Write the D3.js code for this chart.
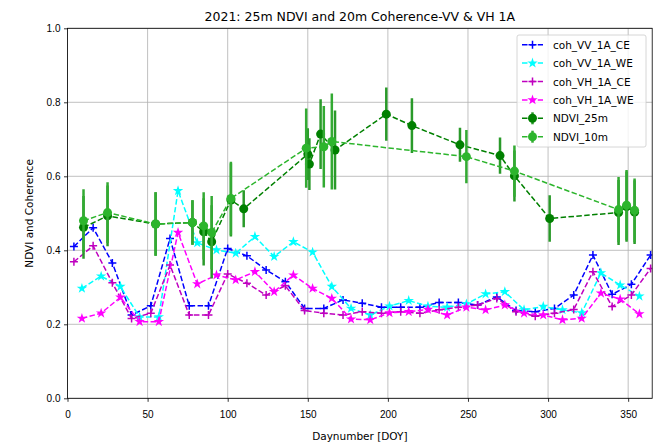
<!DOCTYPE html>
<html>
<head>
<meta charset="utf-8">
<script src="https://cdn.jsdelivr.net/npm/d3@7"></script>
<style>
  body { margin: 0; background: #fff; }
  svg { font-family: "DejaVu Sans", sans-serif; }
</style>
</head>
<body>
<svg id="chart" width="653" height="443"></svg>
<script>
// coherence acquisitions (two orbits)
const ceDays = [4,16,28,40,52,64,76,88,100,112,124,136,148,160,172,184,196,208,220,232,244,256,268,280,292,304,316,328,340,352,364]
const weDays = [9,21,33,45,57,69,81,93,105,117,129,141,153,165,177,189,201,213,225,237,249,261,273,285,297,309,321,333,345,357]

const vvCE = [0.41,0.461,0.366,0.225,0.25,0.432,0.25,0.25,0.405,0.385,0.347,0.315,0.243,0.243,0.266,0.257,0.246,0.246,0.246,0.259,0.259,0.252,0.274,0.237,0.234,0.243,0.279,0.387,0.281,0.308,0.387]
const vvWE = [0.297,0.33,0.302,0.22,0.22,0.561,0.42,0.401,0.392,0.437,0.383,0.423,0.395,0.302,0.243,0.225,0.249,0.264,0.249,0.246,0.255,0.282,0.288,0.239,0.248,0.239,0.231,0.339,0.306,0.276]
const vhCE = [0.369,0.412,0.312,0.216,0.23,0.36,0.225,0.225,0.336,0.311,0.279,0.304,0.237,0.23,0.225,0.234,0.23,0.234,0.23,0.239,0.246,0.252,0.27,0.234,0.222,0.23,0.24,0.342,0.248,0.279,0.351]
const vhWE = [0.216,0.23,0.273,0.207,0.207,0.448,0.309,0.333,0.32,0.342,0.288,0.333,0.297,0.27,0.214,0.212,0.231,0.234,0.24,0.225,0.246,0.239,0.252,0.23,0.225,0.212,0.216,0.284,0.268,0.228]

// NDVI with std error bars
const ndvi25Days = [10,25,55,78,85,90,102,110,150,151,158,167,199,215,245,270,279,301,344,349,354]
const ndvi25 = [0.462,0.493,0.471,0.475,0.45,0.423,0.536,0.512,0.66,0.633,0.714,0.671,0.768,0.737,0.685,0.656,0.601,0.486,0.502,0.518,0.503]
const ndvi25Err = [0.085,0.082,0.086,0.06,0.091,0.099,0.099,0.05,0.07,0.07,0.094,0.107,0.072,0.074,0.046,0.049,0.069,0.063,0.088,0.095,0.086]

const ndvi10Days = [10,25,55,78,85,90,102,149,160,165,249,279,344,349,354]
const ndvi10 = [0.48,0.502,0.471,0.475,0.466,0.448,0.54,0.676,0.68,0.694,0.653,0.614,0.51,0.522,0.508]
const ndvi10Err = [0.085,0.082,0.086,0.06,0.091,0.099,0.099,0.107,0.11,0.13,0.072,0.069,0.088,0.095,0.086]

const xTicks = [0,50,100,150,200,250,300,350]
const yTicks = [0,0.2,0.4,0.6,0.8,1.0]

var margin = {top: 28.3, left: 67.5},
    width = 652.2 - margin.left,
    height = 398.3 - margin.top

const svg = d3.select('#chart')
const g = svg.append('g').attr('transform', 'translate('+margin.left+','+margin.top+')')

var x = d3.scaleLinear().domain([0,365]).range([0,width])
var y = d3.scaleLinear().domain([0,1]).range([height,0])

svg.append('defs').append('clipPath').attr('id','clip')
  .append('rect').attr('width',width).attr('height',height)

// grid
g.append('g').selectAll('line').data(xTicks).join('line')
  .attr('x1',d=>x(d)).attr('x2',d=>x(d)).attr('y1',0).attr('y2',height)
  .attr('stroke','#b0b0b0').attr('stroke-width',0.8)
g.append('g').selectAll('line').data(yTicks).join('line')
  .attr('y1',d=>y(d)).attr('y2',d=>y(d)).attr('x1',0).attr('x2',width)
  .attr('stroke','#b0b0b0').attr('stroke-width',0.8)

const plot = g.append('g').attr('clip-path','url(#clip)')

const series = [
  {name:'coh_VV_1A_CE', days:ceDays, vals:vvCE, color:'#0000ff', marker:'plus'},
  {name:'coh_VV_1A_WE', days:weDays, vals:vvWE, color:'#00ffff', marker:'star'},
  {name:'coh_VH_1A_CE', days:ceDays, vals:vhCE, color:'#bf00bf', marker:'plus'},
  {name:'coh_VH_1A_WE', days:weDays, vals:vhWE, color:'#ff00ff', marker:'star'},
  {name:'NDVI_25m', days:ndvi25Days, vals:ndvi25, err:ndvi25Err, color:'#008000', ecolor:'#2a9a2a', marker:'dot'},
  {name:'NDVI_10m', days:ndvi10Days, vals:ndvi10, err:ndvi10Err, color:'#2db52d', ecolor:'#33aa33', marker:'dot'}
]

const line = d3.line().x(d=>x(d[0])).y(d=>y(d[1]))
const star = d3.symbol().type(d3.symbolStar).size(34)

function drawMarker(sel, s) {
  if (s.marker === 'plus') {
    sel.append('path').attr('d','M-4,0H4M0,-4V4')
      .attr('stroke',s.color).attr('stroke-width',1.5).attr('fill','none')
  } else if (s.marker === 'star') {
    sel.append('path').attr('d',star()).attr('fill',s.color)
  } else {
    sel.append('circle').attr('r',4.5).attr('fill',s.color)
  }
}

series.forEach(s => {
  const pts = s.days.map((d,i)=>[d, s.vals[i], s.err ? s.err[i] : 0])
  const sg = plot.append('g')
  if (s.err) {
    sg.selectAll('line.err').data(pts).join('line').attr('class','err')
      .attr('x1',d=>x(d[0])).attr('x2',d=>x(d[0]))
      .attr('y1',d=>y(d[1]-d[2])).attr('y2',d=>y(d[1]+d[2]))
      .attr('stroke',s.ecolor).attr('stroke-width',2.5)
  }
  sg.append('path').datum(pts).attr('d',line)
    .attr('fill','none').attr('stroke',s.color).attr('stroke-width',1.5)
    .attr('stroke-dasharray','5.5,2.4')
  sg.selectAll('g.m').data(pts).join('g').attr('class','m')
    .attr('transform',d=>'translate('+x(d[0])+','+y(d[1])+')')
    .each(function(){ drawMarker(d3.select(this), s) })
})

// axes
const xAxis = g.append('g').attr('transform','translate(0,'+height+')')
  .call(d3.axisBottom(x).tickValues(xTicks).tickSize(3.5).tickPadding(9).tickFormat(d3.format('d')))
const yAxis = g.append('g')
  .call(d3.axisLeft(y).tickValues(yTicks).tickSize(3.5).tickPadding(3.5).tickFormat(d3.format('.1f')))
;[xAxis,yAxis].forEach(a=>{
  a.select('.domain').remove()
  a.selectAll('text').style('font-size','10px').attr('fill','#000')
  a.selectAll('line').attr('stroke','#000').attr('stroke-width',0.8)
})
g.append('rect').attr('width',width).attr('height',height)
  .attr('fill','none').attr('stroke','#000').attr('stroke-width',0.8)

// labels
svg.append('text').attr('x',margin.left+width/2).attr('y',21)
  .attr('text-anchor','middle').style('font-size','12.5px').text('2021: 25m NDVI and 20m Coherence-VV & VH 1A')
svg.append('text').attr('x',margin.left+width/2).attr('y',440)
  .attr('text-anchor','middle').style('font-size','10.5px').text('Daynumber [DOY]')
svg.append('text').attr('transform','translate(33,'+(margin.top+height/2)+')rotate(-90)')
  .attr('text-anchor','middle').style('font-size','10.5px').text('NDVI and Coherence')

// legend
const lg = svg.append('g').attr('transform','translate(517,35)')
lg.append('rect').attr('width',129).attr('height',112).attr('rx',2)
  .attr('fill','#fff').attr('fill-opacity',0.8).attr('stroke','#cccccc').attr('stroke-width',0.8)
series.forEach((s,i)=>{
  const row = lg.append('g').attr('transform','translate(0,'+(9.7+i*18.4)+')')
  row.append('line').attr('x1',5).attr('x2',26).attr('stroke',s.color)
    .attr('stroke-width',1.5).attr('stroke-dasharray','5.5,2.4')
  if (s.err) row.append('line').attr('x1',15.5).attr('x2',15.5).attr('y1',-6).attr('y2',6)
    .attr('stroke',s.ecolor).attr('stroke-width',2.5)
  const m = row.append('g').attr('transform','translate(15.5,0)')
  drawMarker(m, s)
  row.append('text').attr('x',36).attr('y',4).style('font-size','10.5px').text(s.name)
})
</script>
</body>
</html>
